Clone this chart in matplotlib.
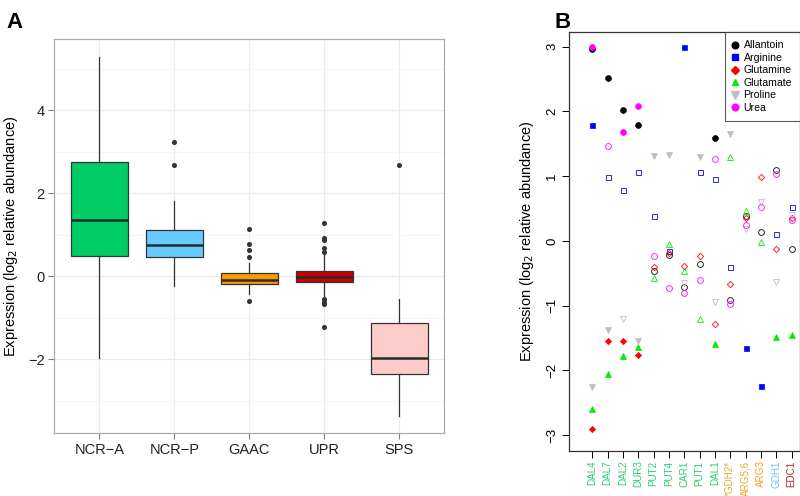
import matplotlib
matplotlib.use('Agg')
import matplotlib.pyplot as plt
from matplotlib.lines import Line2D

plt.rcParams['font.family'] = ['Liberation Sans', 'DejaVu Sans']

# ---------------- Panel A data ----------------
groups = ['NCR−A', 'NCR−P', 'GAAC', 'UPR', 'SPS']
box_colors = ['#00CC66', '#66CCFF', '#FF9900', '#CC0000', '#FFCCCC']
q1 = [0.48, 0.47, -0.19, -0.15, -2.35]
med = [1.36, 0.75, -0.10, -0.01, -1.97]
q3 = [2.75, 1.12, 0.07, 0.12, -1.12]
whislo = [-1.97, -0.24, -0.42, -0.50, -3.37]
whishi = [5.27, 1.80, 0.31, 0.50, -0.54]
outliers = [[],
            [2.67, 3.24],
            [-0.60, 0.46, 0.63, 0.78, 1.13],
            [-1.23, -0.67, -0.62, -0.55, 0.59, 0.67, 0.87, 0.92, 1.29],
            [2.67]]

# ---------------- Panel B data ----------------
genes = ['DAL4', 'DAL7', 'DAL2', 'DUR3', 'PUT2', 'PUT4', 'CAR1', 'PUT1', 'DAL1',
         '*GDH2*', 'ARG5,6', 'ARG3', 'GDH1', 'EDC1']
gene_colors = ['#2ECC71'] * 9 + ['#F5A52A'] * 3 + ['#66C8F0', '#B22222']

nutrients = ['Allantoin', 'Arginine', 'Glutamine', 'Glutamate', 'Proline', 'Urea']
allantoin = [2.96, 2.51, 2.02, 1.79, -0.47, -0.21, -0.71, -0.35, 1.59, -0.91, 0.39, 0.14, 1.09, -0.13]
allantoin_sig = [1, 1, 1, 1, 0, 0, 0, 0, 1, 0, 0, 0, 0, 0]
arginine = [1.79, 0.99, 0.78, 1.06, 0.38, -0.15, 3.00, 1.07, 0.95, -0.41, -1.65, -2.24, 0.10, 0.52]
arginine_sig = [1, 0, 0, 0, 0, 0, 1, 0, 0, 0, 1, 1, 0, 0]
glutamine = [-2.91, -1.55, -1.54, -1.76, -0.41, -0.19, -0.38, -0.23, -1.28, -0.66, 0.35, 0.99, -0.12, 0.36]
glutamine_sig = [1, 1, 1, 1, 0, 0, 0, 0, 0, 0, 0, 0, 0, 0]
glutamate = [-2.59, -2.06, -1.78, -1.64, -0.57, -0.04, -0.46, -1.21, -1.59, 1.30, 0.46, -0.01, -1.48, -1.45]
glutamate_sig = [1, 1, 1, 1, 0, 0, 0, 0, 1, 0, 0, 0, 1, 1]
proline = [-2.25, -1.37, -1.20, -1.55, 1.31, 1.32, -0.65, 1.29, -0.95, 1.65, 0.18, 0.60, -0.64, 0.40]
proline_sig = [1, 1, 0, 1, 1, 1, 0, 1, 0, 1, 0, 0, 0, 0]
urea = [3.00, 1.47, 1.68, 2.08, -0.24, -0.73, -0.80, -0.61, 1.26, -0.98, 0.25, 0.52, 1.04, 0.33]
urea_sig = [1, 0, 1, 1, 0, 0, 0, 0, 0, 0, 0, 0, 0, 0]

series = [allantoin, arginine, glutamine, glutamate, proline, urea]
series_sig = [allantoin_sig, arginine_sig, glutamine_sig, glutamate_sig, proline_sig, urea_sig]
markers = ['o', 's', 'D', '^', 'v', 'o']
mcolors = ['#000000', '#0000FF', '#FF0000', '#00EE00', '#BEBEBE', '#FF00FF']
msizes = [4.2, 3.6, 3.2, 4.4, 4.6, 4.2]

fig = plt.figure(figsize=(8, 4.96), dpi=100)

# ---------------- Panel A ----------------
axA = fig.add_axes([0.068, 0.127, 0.487, 0.794])
stats = []
for i in range(len(groups)):
    stats.append(dict(med=med[i], q1=q1[i], q3=q3[i], whislo=whislo[i],
                      whishi=whishi[i], fliers=outliers[i], label=groups[i]))
positions = list(range(1, len(groups) + 1))
bp = axA.bxp(stats, positions=positions, widths=0.76, patch_artist=True,
             showcaps=False,
             boxprops=dict(edgecolor='#333333', linewidth=0.9),
             medianprops=dict(color='#2a2a2a', linewidth=1.8),
             whiskerprops=dict(color='#333333', linewidth=0.9),
             flierprops=dict(marker='o', markersize=2.6, markerfacecolor='#333333',
                             markeredgecolor='#333333', linestyle='none'),
             zorder=3)
for patch, c in zip(bp['boxes'], box_colors):
    patch.set_facecolor(c)

axA.set_xlim(0.4, 5.6)
axA.set_ylim(-3.78, 5.71)
axA.set_yticks([-2, 0, 2, 4])
axA.set_yticks([-3, -1, 1, 3, 5], minor=True)
axA.set_xticks(positions)
axA.set_xticklabels(groups)
axA.grid(True, which='major', color='#EBEBEB', linewidth=0.9, zorder=0)
axA.grid(True, which='minor', axis='y', color='#F5F5F5', linewidth=0.6, zorder=0)
axA.set_axisbelow(True)
axA.tick_params(axis='both', which='major', labelsize=10.5, colors='#7F7F7F',
                labelcolor='#222222', length=4, width=0.8, pad=3)
axA.tick_params(axis='both', which='minor', length=0)
for s in axA.spines.values():
    s.set_color('#AAAAAA')
    s.set_linewidth(0.9)
axA.set_ylabel('Expression (log$_2$ relative abundance)', fontsize=10.5, labelpad=6)
fig.text(0.008, 0.975, 'A', fontsize=16, fontweight='bold', va='top', ha='left')

# ---------------- Panel B ----------------
axB = fig.add_axes([0.7116, 0.0913, 0.2884, 0.8436])
xs = list(range(1, len(genes) + 1))
for vals, sig, mk, col, ms in zip(series, series_sig, markers, mcolors, msizes):
    fx = [x for x, s in zip(xs, sig) if s]
    fy = [v for v, s in zip(vals, sig) if s]
    ox = [x for x, s in zip(xs, sig) if not s]
    oy = [v for v, s in zip(vals, sig) if not s]
    axB.plot(ox, oy, linestyle='none', marker=mk, markersize=ms, markerfacecolor='none',
             markeredgecolor=col, markeredgewidth=0.7, alpha=0.85)
    axB.plot(fx, fy, linestyle='none', marker=mk, markersize=ms, markerfacecolor=col,
             markeredgecolor=col, markeredgewidth=0.5)

axB.set_xlim(-0.5, 14.55)
axB.set_ylim(-3.24, 3.223)
axB.set_xticks(xs)
axB.set_xticklabels(genes, rotation=90, fontsize=7.1)
for lab, c in zip(axB.get_xticklabels(), gene_colors):
    lab.set_color(c)
axB.set_yticks([-3, -2, -1, 0, 1, 2, 3])
axB.set_yticklabels(['−3', '−2', '−1', '0', '1', '2', '3'], rotation=90, va='center')
axB.tick_params(axis='y', labelsize=9.5, length=5, width=0.7, pad=3)
axB.tick_params(axis='x', length=5, width=0.7, pad=2)
for s in axB.spines.values():
    s.set_color('#333333')
    s.set_linewidth(0.9)
axB.set_ylabel('Expression (log$_2$ relative abundance)', fontsize=10.5, labelpad=7)

handles = [Line2D([], [], linestyle='none', marker=mk, markersize=ms + 0.6, markerfacecolor=col,
                  markeredgecolor=col) for mk, col, ms in zip(markers, mcolors, msizes)]
leg = axB.legend(handles, nutrients, loc='upper right', bbox_to_anchor=(1.0, 1.0),
                 borderaxespad=0, fontsize=7.6, frameon=True, fancybox=False,
                 handlelength=0.5, handletextpad=0.55, labelspacing=0.24,
                 borderpad=0.75)
leg.get_frame().set_edgecolor('#333333')
leg.get_frame().set_linewidth(0.8)
fig.text(0.693, 0.975, 'B', fontsize=16, fontweight='bold', va='top', ha='left')

fig.savefig('out.png', dpi=100)
